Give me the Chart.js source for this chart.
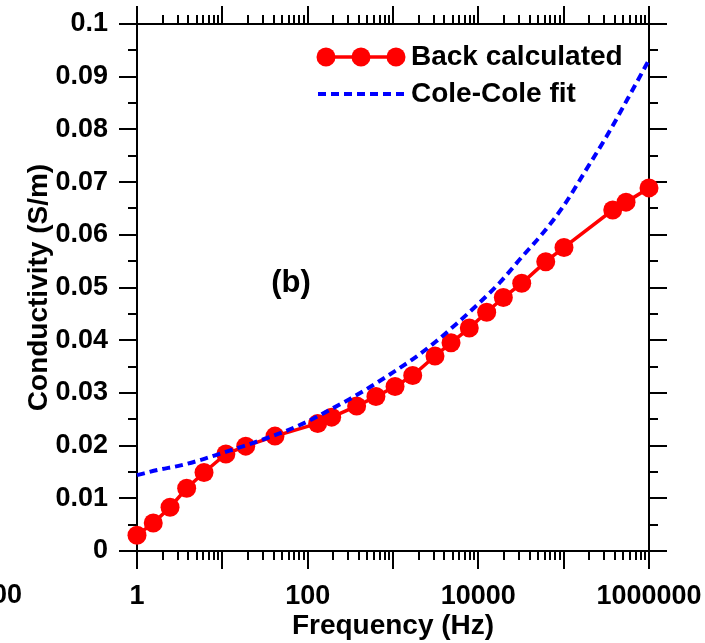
<!DOCTYPE html>
<html>
<head>
<meta charset="utf-8">
<script src="https://cdn.jsdelivr.net/npm/chart.js@4/dist/chart.umd.min.js"></script>
<style>
  html, body { margin: 0; padding: 0; background: #fff; }
  #c { display: block; }
</style>
</head>
<body>
<canvas id="c" width="705" height="643"></canvas>
<script>
// Measured conductivity (back calculated from the inversion)
const backFreq = [1, 1.55, 2.44, 3.82, 6.1, 11, 18.8, 41.4, 131, 191, 375, 631, 1057, 1702,
  3105, 4786, 7834, 12530, 19630, 32240, 61660, 100900, 375800, 538000, 1000000];
const backCond = [0.0030, 0.0053, 0.0083, 0.0119, 0.0149, 0.0184, 0.0199, 0.0218, 0.0242, 0.0254,
  0.0275, 0.0293, 0.0312, 0.0333, 0.0370, 0.0395, 0.0423, 0.0453, 0.0481, 0.0508,
  0.0549, 0.0576, 0.0647, 0.0662, 0.0689];

// Cole-Cole model curve
const fitFreq = [1, 1.78, 3.16, 5.62, 10, 17.8, 31.6, 56.2, 100, 178, 316, 562, 1000, 1778,
  3162, 5623, 10000, 17783, 31623, 56234, 100000, 177828, 316228, 562341, 1000000];
const fitCond = [0.0144, 0.0154, 0.0162, 0.0173, 0.0186, 0.0199, 0.0213, 0.0228, 0.0246, 0.0267,
  0.0289, 0.0313, 0.0339, 0.0366, 0.0397, 0.0432, 0.0469, 0.0509, 0.0556, 0.0602,
  0.0655, 0.0720, 0.0786, 0.0858, 0.0932];

// Axis labels
const xTickValues = [1, 100, 10000, 1000000];
const xTickLabels = ['1', '100', '10000', '1000000'];
const yTickValues = [0, 0.01, 0.02, 0.03, 0.04, 0.05, 0.06, 0.07, 0.08, 0.09, 0.1];
const yTickLabels = ['0', '0.01', '0.02', '0.03', '0.04', '0.05', '0.06', '0.07', '0.08', '0.09', '0.1'];

const seriesNames = ['Back calculated', 'Cole-Cole fit'];
const panelTag = '(b)';

const FONT = "'Liberation Sans', Arial, Helvetica, sans-serif";
const RED = '#ff0000';
const BLUE = '#0000ff';

// Wanted plot box inside the 705x643 canvas
const PLOT = { left: 137, top: 24, right: 649, bottom: 551 };

// Frame with outward major/minor ticks on all four sides
const framePlugin = {
  id: 'frame',
  beforeDatasetsDraw(chart) {
    const { ctx, chartArea: a, scales: { x, y } } = chart;
    const MAJ = 18, MIN = 9;
    ctx.save();
    ctx.strokeStyle = '#000';
    ctx.lineWidth = 2;
    ctx.lineCap = 'butt';
    ctx.beginPath();
    ctx.moveTo(a.left - MAJ, a.bottom); ctx.lineTo(a.right + MAJ, a.bottom);
    ctx.moveTo(a.left - MAJ, a.top); ctx.lineTo(a.right + MAJ, a.top);
    ctx.moveTo(a.left, a.top); ctx.lineTo(a.left, a.bottom);
    ctx.moveTo(a.right, a.top); ctx.lineTo(a.right, a.bottom);
    // x ticks (log decades)
    for (let d = 0; d <= 6; d++) {
      const base = Math.pow(10, d);
      for (let m = 1; m <= 9; m++) {
        if (d === 6 && m > 1) break;
        const px = Math.round(x.getPixelForValue(m * base));
        const len = m === 1 ? MAJ : MIN;
        ctx.moveTo(px, a.bottom); ctx.lineTo(px, a.bottom + len);
        ctx.moveTo(px, a.top); ctx.lineTo(px, a.top - len);
      }
    }
    // y ticks
    for (let k = 0; k <= 20; k++) {
      const py = Math.round(y.getPixelForValue(k * 0.005));
      const len = k % 2 === 0 ? MAJ : MIN;
      ctx.moveTo(a.left, py); ctx.lineTo(a.left - len, py);
      ctx.moveTo(a.right, py); ctx.lineTo(a.right + len, py);
    }
    ctx.stroke();
    ctx.restore();
  },
  afterDraw(chart) {
    const { ctx } = chart;
    ctx.save();
    // legend
    ctx.strokeStyle = RED; ctx.lineWidth = 3.5;
    ctx.beginPath(); ctx.moveTo(320, 57); ctx.lineTo(400, 57); ctx.stroke();
    ctx.fillStyle = RED;
    [326, 361, 396].forEach(cx => { ctx.beginPath(); ctx.arc(cx, 57, 9.5, 0, Math.PI * 2); ctx.fill(); });
    ctx.strokeStyle = BLUE; ctx.lineWidth = 4; ctx.setLineDash([8, 5]);
    ctx.beginPath(); ctx.moveTo(318, 94); ctx.lineTo(406, 94); ctx.stroke();
    ctx.setLineDash([]);
    ctx.fillStyle = '#000';
    ctx.font = 'bold 28px ' + FONT;
    ctx.textAlign = 'left'; ctx.textBaseline = 'middle';
    ctx.fillText(seriesNames[0], 411, 57);
    ctx.fillText(seriesNames[1], 411, 94);
    // panel tag
    ctx.font = 'bold 31px ' + FONT;
    ctx.textAlign = 'center';
    ctx.fillText(panelTag, 291, 283);
    // neighbouring panel's last frequency label, cut by the left edge
    ctx.font = 'bold 27px ' + FONT;
    ctx.textAlign = 'right';
    ctx.fillText('1000000', 22, 596);
    ctx.restore();
  }
};

const chart = new Chart(document.getElementById('c'), {
  type: 'line',
  data: {
    datasets: [
      {
        label: seriesNames[1],
        data: fitFreq.map((f, i) => ({ x: f, y: fitCond[i] })),
        borderColor: BLUE, borderWidth: 4, borderDash: [8, 5],
        pointRadius: 0, fill: false, tension: 0.4, cubicInterpolationMode: 'monotone', clip: false
      },
      {
        label: seriesNames[0],
        data: backFreq.map((f, i) => ({ x: f, y: backCond[i] })),
        borderColor: RED, backgroundColor: RED, borderWidth: 3.5,
        pointRadius: 9.5, pointBackgroundColor: RED, pointBorderColor: RED, pointBorderWidth: 0,
        fill: false, tension: 0, clip: false
      }
    ]
  },
  options: {
    responsive: false, animation: false, devicePixelRatio: 1,
    layout: { autoPadding: false, padding: { top: 24, right: 56, left: 0, bottom: 0 } },
    plugins: { legend: { display: false }, tooltip: { enabled: false } },
    scales: {
      x: {
        type: 'logarithmic', position: 'bottom', min: 1, max: 1000000,
        afterBuildTicks: s => { s.ticks = xTickValues.map(v => ({ value: v })); },
        afterFit: s => { s.height = 92; },
        grid: { display: false, drawTicks: true, tickLength: 29 }, border: { display: false },
        ticks: {
          autoSkip: false, maxRotation: 0, minRotation: 0, padding: 0, color: '#000',
          font: { family: FONT, size: 27, weight: 'bold' },
          callback: (v, i) => xTickLabels[i]
        },
        title: {
          display: true, text: 'Frequency (Hz)', color: '#000',
          font: { family: FONT, size: 28, weight: 'bold' }, padding: { top: 0, bottom: 0 }
        }
      },
      y: {
        type: 'linear', position: 'left', min: 0, max: 0.1,
        afterBuildTicks: s => { s.ticks = yTickValues.map(v => ({ value: v })); },
        afterFit: s => { s.width = 137; },
        grid: { display: false, drawTicks: true, tickLength: 29 }, border: { display: false },
        ticks: {
          autoSkip: false, padding: 0, color: '#000',
          font: { family: FONT, size: 27, weight: 'bold' },
          callback: (v, i) => yTickLabels[i]
        },
        title: {
          display: true, text: 'Conductivity (S/m)', color: '#000',
          font: { family: FONT, size: 28, weight: 'bold' }, padding: { top: 22, bottom: 0 }
        }
      }
    }
  },
  plugins: [framePlugin]
});

// Nudge the layout padding until the plot box sits where wanted
for (let i = 0; i < 4; i++) {
  const a = chart.chartArea;
  const p = chart.options.layout.padding;
  const dt = PLOT.top - a.top, dr = a.right - PLOT.right;
  const dl = PLOT.left - a.left, db = a.bottom - PLOT.bottom;
  if (!dt && !dr && !dl && !db) break;
  p.top += dt; p.right += dr; p.left += dl; p.bottom += db;
  chart.update('none');
}
</script>
</body>
</html>
